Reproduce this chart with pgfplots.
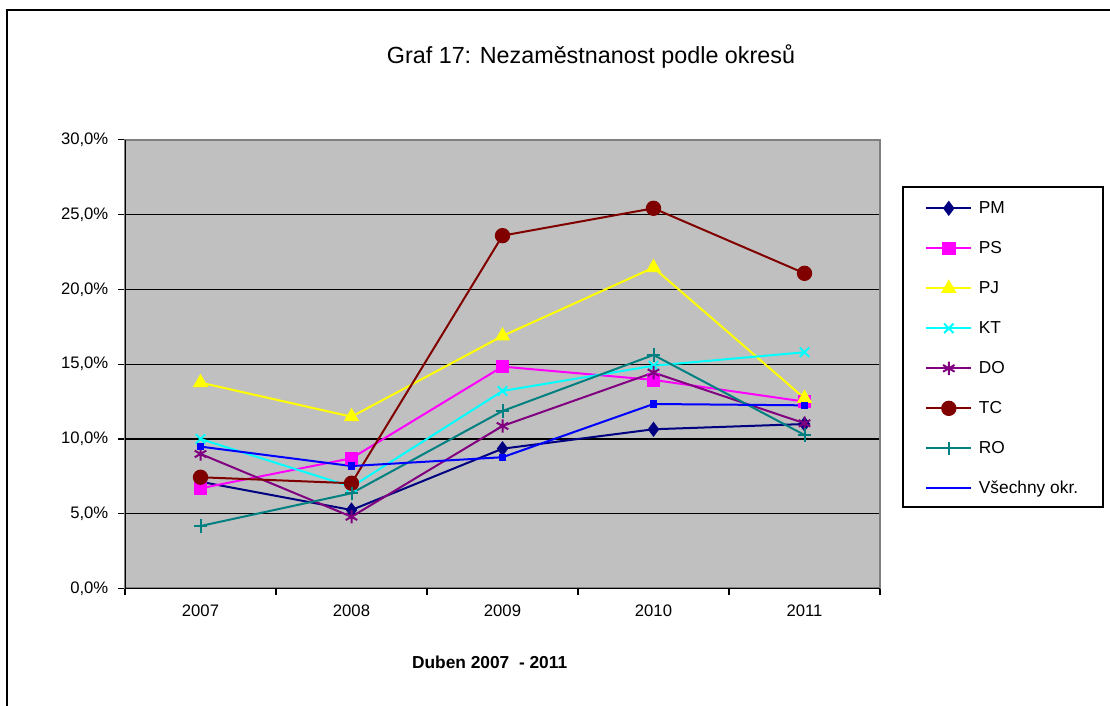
\documentclass[border=0pt]{standalone}
\usepackage{fontspec}
\setmainfont{Liberation Sans}
\usepackage{pgfplots}
\pgfplotsset{compat=1.18}
\definecolor{plotgray}{RGB}{192,192,192}
\definecolor{pmc}{RGB}{0,0,128}
\definecolor{psc}{RGB}{255,0,255}
\definecolor{pjc}{RGB}{255,255,0}
\definecolor{ktc}{RGB}{0,255,255}
\definecolor{doc}{RGB}{128,0,128}
\definecolor{tcc}{RGB}{128,0,0}
\definecolor{roc}{RGB}{0,128,128}
\definecolor{vsc}{RGB}{0,0,255}

\begin{document}
\begin{tikzpicture}[x=0.75pt,y=0.75pt]
\useasboundingbox (0,0) rectangle (1110,706);
% outer frame (top and left only)
\draw[line width=2.2pt] (7,0) -- (7,696) -- (1110,696);

\node[font=\fontsize{17.5}{20}\selectfont] at (591,649) {Graf 17: Nezaměstnanost podle okresů};

\begin{axis}[
  at={(93.75pt,88.125pt)}, anchor=south west,
  scale only axis,
  width=566.25pt, height=336.4pt,
  xmin=-0.5, xmax=4.5,
  ymin=0, ymax=30,
  xtick={0,1,2,3,4},
  xticklabels={2007,2008,2009,2010,2011},
  major x tick style={draw=none},
  minor xtick={-0.5,0.5,1.5,2.5,3.5,4.5},
  ytick={0,5,10,15,20,25,30},
  yticklabels={{0,0\%},{5,0\%},{10,0\%},{15,0\%},{20,0\%},{25,0\%},{30,0\%}},
  xtick pos=left, ytick pos=left,
  tick align=outside,
  major tick length=5pt,
  minor tick length=5pt,
  tick style={black, line width=0.8pt},
  ymajorgrids,
  grid style={black, line width=0.9pt},
  axis background/.style={fill=plotgray},
  axis line style={draw=gray, line width=1.5pt},
  ticklabel style={font=\fontsize{12.5}{14}\selectfont},
  xticklabel style={yshift=-4pt},
  yticklabel style={xshift=-4pt},
  xlabel={\textbf{Duben 2007\ \ - 2011}},
  xlabel style={font=\fontsize{13}{15}\selectfont, at={(axis description cs:0.483,-0.164)}, anchor=center},
  legend style={at={(1.0596,0.866)}, anchor=north west, draw=none, fill=none,
    font=\fontsize{13}{15}\selectfont, row sep=18pt, inner sep=0pt,
    nodes={inner sep=0pt, text height=9.5pt, text depth=2.5pt},
    /tikz/every odd column/.append style={column sep=5pt}},
  legend cell align=left,
  legend image code/.code={\draw[mark repeat=2,mark phase=2] plot coordinates {(0pt,0pt) (16.9pt,0pt) (33.75pt,0pt)};},
  every axis plot/.append style={line width=1.5pt},
]
\addplot[pmc, mark=diamond*, mark size=4.5pt]
  coordinates {(0,7.14)(1,5.25)(2,9.35)(3,10.65)(4,11.0)};
\addlegendentry{PM}
\addplot[psc, mark=square*, mark size=4.3pt]
  coordinates {(0,6.7)(1,8.71)(2,14.84)(3,13.95)(4,12.5)};
\addlegendentry{PS}
\addplot[pjc, mark=triangle*, mark size=5.2pt]
  coordinates {(0,13.77)(1,11.49)(2,16.89)(3,21.46)(4,12.72)};
\addlegendentry{PJ}
\addplot[ktc, mark=x, mark size=5pt]
  coordinates {(0,10.0)(1,6.8)(2,13.21)(3,14.9)(4,15.8)};
\addlegendentry{KT}
\addplot[doc, mark=asterisk, mark size=5pt]
  coordinates {(0,9.0)(1,4.8)(2,10.87)(3,14.44)(4,11.05)};
\addlegendentry{DO}
\addplot[tcc, mark=*, mark size=5pt]
  coordinates {(0,7.44)(1,7.04)(2,23.6)(3,25.43)(4,21.08)};
\addlegendentry{TC}
\addplot[roc, mark=+, mark size=5pt]
  coordinates {(0,4.18)(1,6.37)(2,11.87)(3,15.62)(4,10.27)};
\addlegendentry{RO}
\addplot[vsc, mark=square*, mark size=2pt, forget plot]
  coordinates {(0,9.49)(1,8.19)(2,8.78)(3,12.34)(4,12.25)};
\addlegendimage{vsc, line width=1.5pt, mark=none}
\addlegendentry{Všechny okr.}
% black axis lines on left and bottom
\draw[black, line width=1pt] (axis cs:-0.5,30) -- (axis cs:-0.5,0) -- (axis cs:4.5,0);
\end{axis}

% legend frame
\draw[black, line width=0.8pt] (903,706-187) rectangle (1103,706-507);
\end{tikzpicture}
\end{document}
